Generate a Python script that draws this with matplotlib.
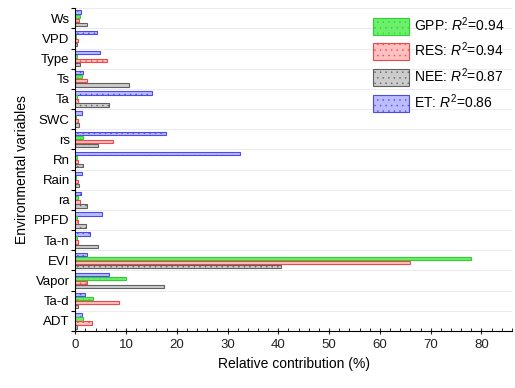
import numpy as np
import matplotlib
matplotlib.use("Agg")
import matplotlib.pyplot as plt
from matplotlib.ticker import MultipleLocator

plt.rcParams['font.family'] = ['Liberation Sans', 'DejaVu Sans']
plt.rcParams['mathtext.fontset'] = 'custom'
plt.rcParams['mathtext.it'] = 'Liberation Sans:italic'
plt.rcParams['mathtext.rm'] = 'Liberation Sans'
plt.rcParams['hatch.linewidth'] = 0.3

variables = ['Ws', 'VPD', 'Type', 'Ts', 'Ta', 'SWC', 'rs', 'Rn', 'Rain', 'ra',
             'PPFD', 'Ta-n', 'EVI', 'Vapor', 'Ta-d', 'ADT']
et = [1.2, 4.3, 4.9, 1.6, 15.2, 1.4, 17.8, 32.4, 1.3, 1.2, 5.2, 2.9, 2.3, 6.6, 1.9, 1.4]
gpp = [1.0, 0.1, 0.3, 1.3, 0.3, 0.2, 1.6, 0.3, 0.2, 0.5, 0.3, 0.3, 78.0, 10.0, 3.6, 1.6]
res = [0.8, 0.5, 6.2, 2.4, 0.5, 0.5, 7.5, 0.5, 0.5, 1.0, 0.5, 0.5, 66.0, 2.4, 8.7, 3.3]
nee = [2.3, 0.3, 1.0, 10.5, 6.6, 0.8, 4.5, 1.6, 0.8, 2.3, 2.2, 4.4, 40.5, 17.4, 0.5, 0.3]

series = [
    ('ET: $R^2$=0.86', et, '#bcbcff', '#4a4af0'),
    ('GPP: $R^2$=0.94', gpp, '#6cf06c', '#30d030'),
    ('RES: $R^2$=0.94', res, '#ffc0c0', '#f04848'),
    ('NEE: $R^2$=0.87', nee, '#cccccc', '#606060'),
]

fig = plt.figure(figsize=(5.15, 3.88), dpi=100)
ax = fig.add_axes([0.146, 0.147, 0.848, 0.832])

n = len(variables)
ypos = np.arange(n)[::-1]  # Ws at top
h = 0.2
for k, (lab, vals, fc, ec) in enumerate(series):
    off = 0.3 - k * h
    ax.barh(ypos + off, vals, height=h * 0.85, color=fc, edgecolor=ec,
            linewidth=0.8, hatch='...', label=lab)

# group boundary grid lines
for y in np.arange(n + 1) - 0.5:
    ax.axhline(y, color='#ebebeb', lw=0.7, zorder=0)

ax.set_xlim(0, 86)
ax.set_ylim(-0.4, n - 0.56)
ax.xaxis.set_major_locator(MultipleLocator(10))
ax.xaxis.set_minor_locator(MultipleLocator(2))
ax.tick_params(axis='x', which='major', direction='inout', length=5, labelsize=9.5, colors='#222222')
ax.tick_params(axis='x', which='minor', direction='in', length=2.5)

ax.set_yticks(np.arange(n + 1) - 0.5)
ax.set_yticklabels([])
ax.set_yticks(ypos, minor=True)
ax.set_yticklabels(variables, minor=True, fontsize=9.5)
ax.tick_params(axis='y', which='major', direction='out', length=3)
ax.tick_params(axis='y', which='minor', length=0, pad=4)

for s in ['top', 'right']:
    ax.spines[s].set_visible(False)

ax.set_xlabel('Relative contribution (%)', fontsize=10)
ax.set_ylabel('Environmental variables', fontsize=10)

handles, labels = ax.get_legend_handles_labels()
order = [1, 2, 3, 0]
ax.legend([handles[i] for i in order], [labels[i] for i in order],
          loc='upper right', frameon=False, fontsize=10,
          handlelength=2.6, handleheight=1.5, borderaxespad=0.1,
          handletextpad=0.4, labelspacing=0.45)

fig.savefig('out.png', dpi=100)
